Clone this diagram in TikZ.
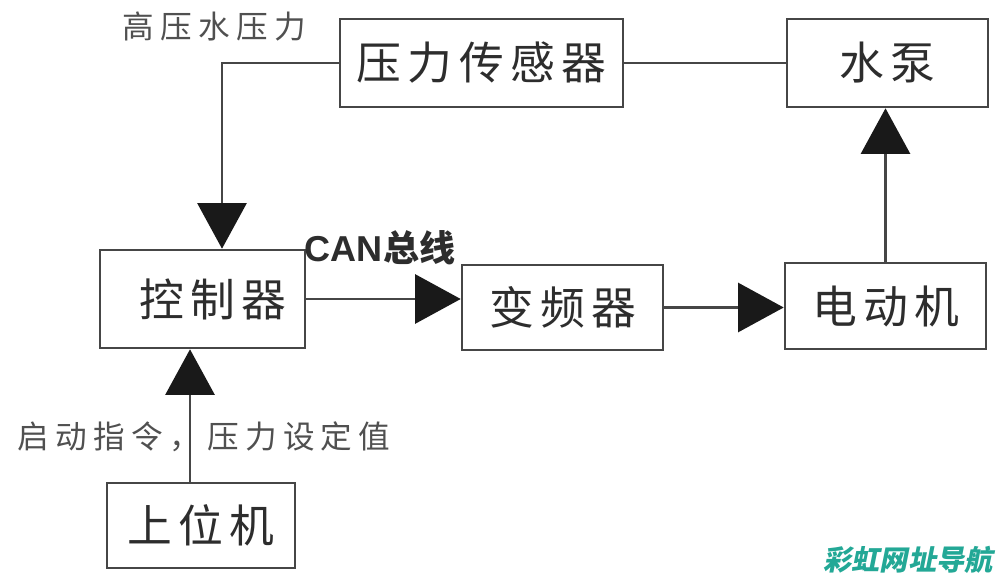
\documentclass[tikz,border=0pt]{standalone}
\usepackage{fontspec}
\setmainfont{Liberation Sans}
\newfontfamily\cjk[LetterSpace=14]{Noto Sans CJK SC}
\newfontfamily\cjksmall[LetterSpace=20]{Noto Sans CJK SC}
\newfontfamily\cjkplain{Noto Sans CJK SC}
\newfontfamily\cjkwm[FakeSlant=0.2]{Noto Sans CJK SC}
\usetikzlibrary{arrows.meta}
\definecolor{ln}{RGB}{70,70,70}
\definecolor{tx}{RGB}{45,45,45}
\definecolor{lb}{RGB}{80,80,80}
\definecolor{tip}{RGB}{25,25,25}
\definecolor{wm}{RGB}{35,168,150}
\begin{document}
\begin{tikzpicture}[x=0.02cm,y=-0.02cm,
  box/.style={draw=ln, line width=1.5pt, rectangle, inner sep=0pt,
    font=\cjk\fontsize{25.5}{25.5}\selectfont, text=tx},
  conn/.style={draw=ln, line width=1.4pt},
  arr/.style={conn, -{Triangle[width=28pt,length=26pt,color=tip]}},
  lbl/.style={font=\cjksmall\fontsize{18}{18}\selectfont, text=lb, inner sep=0pt}]
\useasboundingbox (0,0) rectangle (1000,581);
\fill[white] (0,0) rectangle (1000,581);

\node[box, minimum width=5.66cm, minimum height=1.76cm] (sensor) at (481.5,63) {压力传感器};
\node[box, minimum width=4.02cm, minimum height=1.76cm] (pump) at (887.5,63) {水泵};
\node[box, minimum width=4.1cm, minimum height=1.96cm] (ctrl) at (202.5,299) {\hspace*{0.4cm}控制器};
\node[box, minimum width=4.02cm, minimum height=1.7cm] (vfd) at (562.5,307.5) {变频器};
\node[box, minimum width=4.02cm, minimum height=1.72cm] (motor) at (885.5,306) {电动机};
\node[box, minimum width=3.76cm, minimum height=1.7cm] (host) at (201,525.5) {上位机};

\draw[conn] (sensor.east) -- (pump.west);
\draw[arr] (sensor.west) -| ([xshift=0.39cm]ctrl.north);
\draw[arr] (ctrl.east) -- (vfd.west |- ctrl.east);
\draw[arr] (vfd.east) -- (motor.west |- vfd.east);
\draw[arr] (motor.north) -- (motor.north |- pump.south);
\draw[arr] ([xshift=-0.22cm]host.north) -- ([xshift=-0.22cm]host.north |- ctrl.south);

\node[lbl] (lhigh) at (214,26) {高压水压力};
\node[lbl] (lstart) at (204,437) {启动指令，压力设定值};
\node[inner sep=0pt, text=tx, font=\fontsize{20.5}{20.5}\selectfont\bfseries] (lcan) at (380,248) {CAN{\cjkplain\bfseries 总线}};
\node[inner sep=0pt, text=wm, font=\cjkwm\fontsize{16}{16}\selectfont\bfseries] (wmark) at (908,560) {彩虹网址导航};
\end{tikzpicture}
\end{document}
